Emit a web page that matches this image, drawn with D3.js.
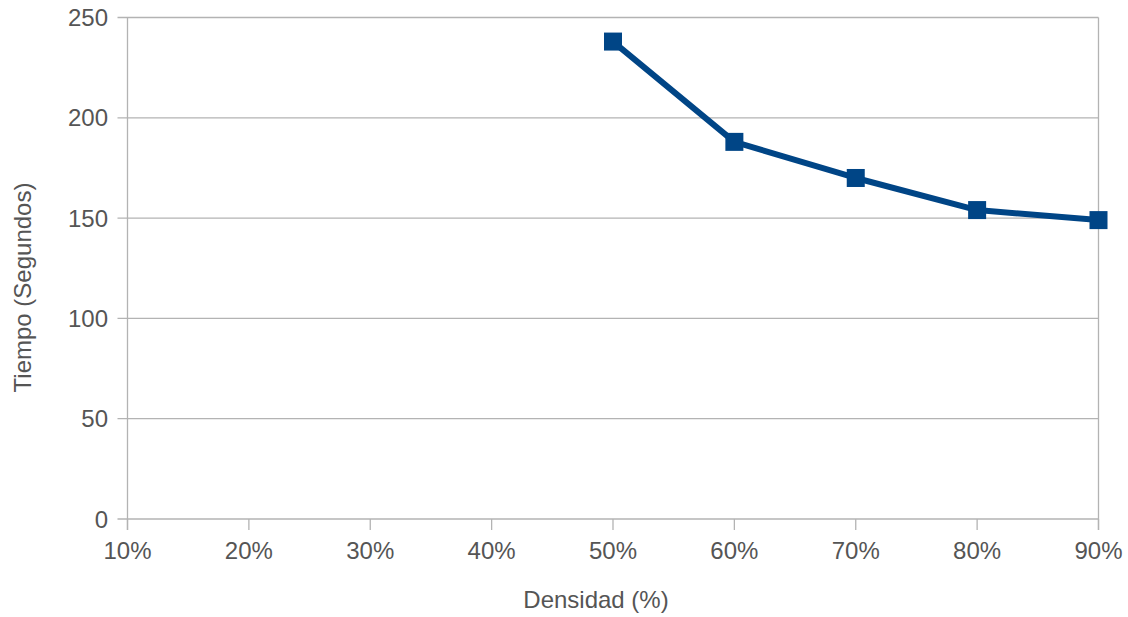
<!DOCTYPE html>
<html><head><meta charset="utf-8">
<script src="https://cdn.jsdelivr.net/npm/d3@7"></script>
<style>body{margin:0;background:#fff;} text{font-family:"Liberation Sans",Arial,sans-serif;}</style>
</head><body>
<svg id="c" width="1128" height="617"></svg>
<script>
const categories = ["10%","20%","30%","40%","50%","60%","70%","80%","90%"];
const tiempo = [null,null,null,null,238,188,170,154,149];
const yTicks = [0,50,100,150,200,250];

const svg = d3.select("#c");
const L=127.5, R=1098.5, T=17.5, B=519;
const x = d3.scalePoint().domain(categories).range([L,R]);
const y = d3.scaleLinear().domain([0,250]).range([B,T]);
const grid="#b3b3b3", txt="#555";

svg.append("g").selectAll("line").data(yTicks).join("line")
  .attr("x1",L-10).attr("x2",R).attr("y1",d=>y(d)).attr("y2",d=>y(d))
  .attr("stroke",grid).attr("stroke-width",1.3);
svg.append("line").attr("x1",L).attr("x2",L).attr("y1",T).attr("y2",B+11).attr("stroke",grid).attr("stroke-width",1.3);
svg.append("line").attr("x1",R).attr("x2",R).attr("y1",T).attr("y2",B+11).attr("stroke",grid).attr("stroke-width",1.3);
svg.append("g").selectAll("line").data(categories).join("line")
  .attr("x1",d=>x(d)).attr("x2",d=>x(d)).attr("y1",B).attr("y2",B+11)
  .attr("stroke",grid).attr("stroke-width",1.3);

svg.append("g").selectAll("text").data(yTicks).join("text")
  .attr("x",108).attr("y",d=>y(d)+8.5).attr("text-anchor","end")
  .attr("font-size",24).attr("fill",txt).text(d=>d);
svg.append("g").selectAll("text").data(categories).join("text")
  .attr("x",d=>x(d)).attr("y",559).attr("text-anchor","middle")
  .attr("font-size",24).attr("fill",txt).text(d=>d);

svg.append("text").attr("x",596).attr("y",608).attr("text-anchor","middle")
  .attr("font-size",24).attr("fill",txt).text("Densidad (%)");
svg.append("text").attr("transform","translate(30.5,287.5) rotate(-90)").attr("text-anchor","middle")
  .attr("font-size",24).attr("fill",txt).text("Tiempo (Segundos)");

const pts = categories.map((c,i)=>({c,v:tiempo[i]})).filter(d=>d.v!=null);
const col="#004586";
svg.append("path").datum(pts)
  .attr("d",d3.line().x(d=>x(d.c)).y(d=>y(d.v)))
  .attr("fill","none").attr("stroke",col).attr("stroke-width",6).attr("stroke-linejoin","round");
svg.append("g").selectAll("rect").data(pts).join("rect")
  .attr("x",d=>x(d.c)-9).attr("y",d=>y(d.v)-9).attr("width",18).attr("height",18)
  .attr("fill",col);
</script>
</body></html>
